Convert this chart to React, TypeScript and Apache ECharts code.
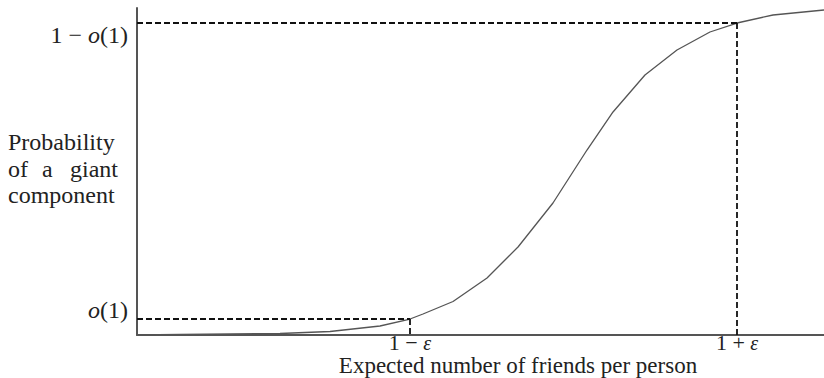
import React, { useEffect, useRef } from "react";
import * as echarts from "echarts";

// Expected number of friends (arbitrary units along the axis)
const xValues = [0, 6.26, 13.54, 20.82, 28.09, 35.37, 39.74, 41.63, 46.0, 50.95, 55.46, 60.55, 65.5, 69.29, 73.94, 78.6, 83.4, 87.34, 92.58, 100];
// Probability of a giant component (percent of axis height)
const probValues = [0, 0.15, 0.31, 0.46, 1.07, 2.75, 4.89, 6.42, 10.24, 17.43, 26.91, 40.37, 56.57, 68.2, 79.5, 87.16, 92.66, 95.41, 97.86, 99.39];

const xTickValues = [39.74, 87.34];
const xTickLabels = ["lo", "hi"]; // 1 − ε , 1 + ε
const yTickValues = [4.89, 95.41];
const yTickLabels = ["low", "high"]; // o(1), 1 − o(1)

const FONT = "Liberation Serif";
const TXT = "#222";
const FS = 24;

export default function App() {
  const ref = useRef<HTMLDivElement>(null);
  useEffect(() => {
    if (!ref.current) return;
    const chart = echarts.init(ref.current, null, { renderer: "svg" });
    const data = xValues.map((x, i) => [x, probValues[i]]);
    const dash = { type: [6, 3] as any, color: "#111", width: 1.8 };
    const t = (text: string, pos: any) => ({
      type: "text",
      ...pos,
      style: { text, fontFamily: FONT, fontSize: FS, fill: TXT, verticalAlign: "middle" },
    });
    chart.setOption({
      animation: false,
      grid: { left: 137, right: 0, top: 8, bottom: 43, containLabel: false },
      xAxis: {
        type: "value",
        min: 0,
        max: 100,
        splitLine: { show: false },
        axisTick: { show: false },
        axisLine: { lineStyle: { color: "#555", width: 2 } },
        axisLabel: {
          customValues: xTickValues,
          margin: 0,
          formatter: (v: number) => {
            const i = xTickValues.indexOf(v);
            return xTickLabels[i] === "lo" ? "{n|1 − }{i|ε}" : "{n|1 + }{i|ε}";
          },
          rich: {
            n: { fontFamily: FONT, fontSize: 22, color: TXT, lineHeight: 15 },
            i: { fontFamily: FONT, fontSize: 20, color: TXT, fontStyle: "italic", lineHeight: 15 },
          },
        },
      },
      yAxis: {
        type: "value",
        min: 0,
        max: 100,
        splitLine: { show: false },
        axisTick: { show: false },
        axisLine: { lineStyle: { color: "#555", width: 2 } },
        axisLabel: {
          customValues: yTickValues,
          margin: 9,
          formatter: (v: number) => {
            const i = yTickValues.indexOf(v);
            return yTickLabels[i] === "high"
              ? "{g| }\n{n|1 − }{i|o}{n|(1)}"
              : "{i|o}{n|(1)}\n{h| }";
          },
          rich: {
            n: { fontFamily: FONT, fontSize: FS, color: TXT, lineHeight: 24 },
            i: { fontFamily: FONT, fontSize: FS, color: TXT, fontStyle: "italic", lineHeight: 24 },
            g: { fontSize: 4, lineHeight: 24 },
            h: { fontSize: 4, lineHeight: 18 },
          },
        },
      },
      series: [
        {
          type: "line",
          data,
          symbol: "none",
          smooth: false,
          clip: false,
          lineStyle: { color: "#555", width: 1.3 },
          markLine: {
            silent: true,
            symbol: "none",
            label: { show: false },
            lineStyle: dash,
            data: [
              [{ coord: [0, yTickValues[1]] }, { coord: [xTickValues[1], yTickValues[1]] }],
              [{ coord: [xTickValues[1], yTickValues[1]] }, { coord: [xTickValues[1], 0] }],
              [{ coord: [0, yTickValues[0]] }, { coord: [xTickValues[0], yTickValues[0]] }],
              [{ coord: [xTickValues[0], yTickValues[0]] }, { coord: [xTickValues[0], 0] }],
            ],
          },
        },
      ],
      graphic: [
        t("Probability", { left: 8, y: 142 }),
        t("of", { left: 8, y: 169 }),
        t("a", { left: 42, y: 169 }),
        t("giant", { right: 706, y: 169 }),
        t("component", { left: 8, y: 195 }),
        {
          type: "text",
          x: 518,
          y: 365,
          style: {
            text: "Expected number of friends per person",
            fontFamily: FONT,
            fontSize: 23,
            lineHeight: 16,
            fill: TXT,
            align: "center",
            verticalAlign: "middle",
          },
        },
      ],
    });
    return () => chart.dispose();
  }, []);
  return <div ref={ref} style={{ position: "fixed", left: 0, top: 0, width: 824, height: 378, background: "#fff" }} />;
}
